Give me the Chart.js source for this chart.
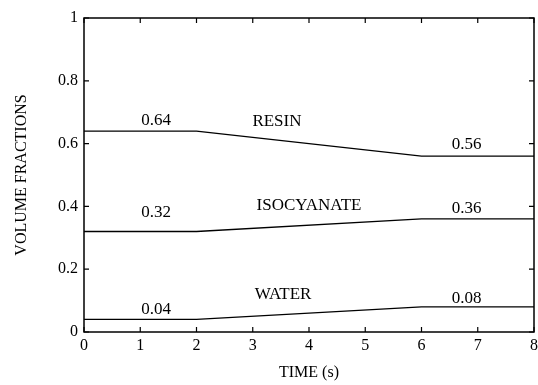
<!DOCTYPE html>
<html>
<head>
<meta charset="utf-8">
<script src="https://cdn.jsdelivr.net/npm/chart.js@4.4.0/dist/chart.umd.min.js"></script>
<style>
  html, body { margin: 0; padding: 0; background: #fff; }
  #wrap { width: 538px; height: 385px; }
</style>
</head>
<body>
<div id="wrap"><canvas id="canvas"></canvas></div>
<script>
// data
var times = [0, 2, 6, 8];
var resin = [0.64, 0.64, 0.56, 0.56];
var isocyanate = [0.32, 0.32, 0.36, 0.36];
var water = [0.04, 0.04, 0.08, 0.08];
var seriesNames = ['RESIN', 'ISOCYANATE', 'WATER'];
var xTicks = [0, 1, 2, 3, 4, 5, 6, 7, 8];
var yTicks = [0, 0.2, 0.4, 0.6, 0.8, 1];

function pts(vals) {
  var out = [];
  for (var i = 0; i < times.length; i++) out.push({x: times[i], y: vals[i]});
  return out;
}

var serif = '"Liberation Serif", "DejaVu Serif", serif';

// text labels placed in data coordinates
var notes = [
  {text: '0.64', x: 1.28, y: resin[0] + 0.032},
  {text: '0.56', x: 6.8, y: resin[3] + 0.036},
  {text: seriesNames[0], x: 3.43, y: 0.669},
  {text: '0.32', x: 1.28, y: isocyanate[0] + 0.062},
  {text: '0.36', x: 6.8, y: isocyanate[3] + 0.032},
  {text: seriesNames[1], x: 4.0, y: 0.404},
  {text: '0.04', x: 1.28, y: water[0] + 0.033},
  {text: '0.08', x: 6.8, y: water[3] + 0.028},
  {text: seriesNames[2], x: 3.54, y: 0.118}
];

var framePlugin = {
  id: 'frame',
  afterDraw: function(chart) {
    var ctx = chart.ctx;
    var a = chart.chartArea;
    var xs = chart.scales.x, ys = chart.scales.y;
    ctx.save();
    ctx.strokeStyle = '#000';
    ctx.lineWidth = 1.5;
    ctx.strokeRect(a.left, a.top, a.right - a.left, a.bottom - a.top);
    ctx.lineWidth = 1.2;
    ctx.beginPath();
    xTicks.forEach(function(v) {
      var px = xs.getPixelForValue(v);
      ctx.moveTo(px, a.bottom); ctx.lineTo(px, a.bottom - 5);
      ctx.moveTo(px, a.top); ctx.lineTo(px, a.top + 5);
    });
    yTicks.forEach(function(v) {
      var py = ys.getPixelForValue(v);
      ctx.moveTo(a.left, py); ctx.lineTo(a.left + 5, py);
      ctx.moveTo(a.right, py); ctx.lineTo(a.right - 5, py);
    });
    ctx.stroke();

    ctx.fillStyle = '#000';
    ctx.font = '17px ' + serif;
    ctx.textAlign = 'center';
    ctx.textBaseline = 'middle';
    notes.forEach(function(n) {
      ctx.fillText(n.text, xs.getPixelForValue(n.x), ys.getPixelForValue(n.y));
    });
    ctx.restore();
  }
};

function lineSet(label, vals) {
  return {
    label: label,
    data: pts(vals),
    borderColor: '#000',
    borderWidth: 1.3,
    pointRadius: 0,
    fill: false,
    tension: 0
  };
}

var ctx = document.getElementById('canvas').getContext('2d');
var chart = new Chart(ctx, {
  type: 'line',
  data: {
    datasets: [
      lineSet(seriesNames[0], resin),
      lineSet(seriesNames[1], isocyanate),
      lineSet(seriesNames[2], water)
    ]
  },
  options: {
    responsive: true,
    maintainAspectRatio: false,
    animation: false,
    layout: { padding: { top: 18, right: 4, left: 0, bottom: 0 } },
    plugins: {
      legend: { display: false },
      tooltip: { enabled: false }
    },
    scales: {
      x: {
        type: 'linear',
        min: 0,
        max: 8,
        afterFit: function(s) { s.height = 53; s.paddingRight = 0; s.paddingLeft = 0; },
        afterBuildTicks: function(s) { s.ticks = xTicks.map(function(v) { return {value: v}; }); },
        grid: { display: false, drawTicks: false },
        border: { display: false },
        ticks: { color: '#000', padding: 4, font: { family: serif, size: 16 } },
        title: {
          display: true,
          text: 'TIME (s)',
          color: '#000',
          font: { family: serif, size: 16 },
          padding: { top: 0, bottom: 3 }
        }
      },
      y: {
        min: 0,
        max: 1,
        afterFit: function(s) { s.width = 84; s.paddingTop = 0; s.paddingBottom = 0; },
        afterBuildTicks: function(s) { s.ticks = yTicks.map(function(v) { return {value: v}; }); },
        grid: { display: false, drawTicks: false },
        border: { display: false },
        ticks: {
          color: '#000',
          padding: 6,
          font: { family: serif, size: 16 },
          callback: function(v) { return String(v); }
        },
        title: {
          display: true,
          text: 'VOLUME FRACTIONS',
          color: '#000',
          font: { family: serif, size: 16 },
          padding: { top: 12, bottom: 0 }
        }
      }
    }
  },
  plugins: [framePlugin]
});
</script>
</body>
</html>
